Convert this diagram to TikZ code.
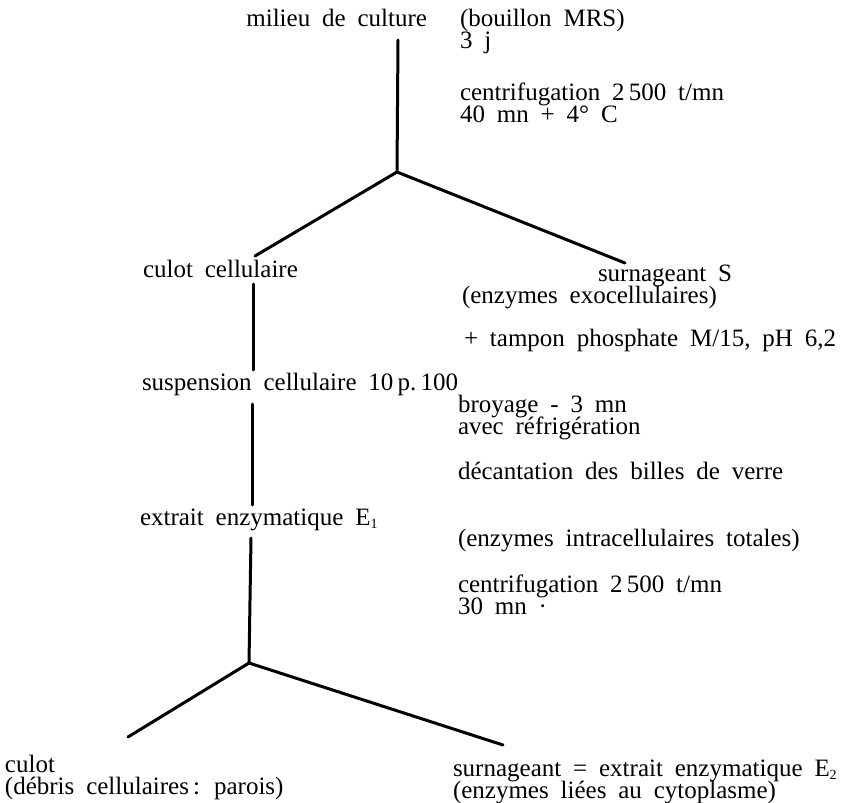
\documentclass[tikz,border=0pt]{standalone}
\usepackage{fontspec}
\setmainfont{Liberation Serif}[WordSpace=1.9]
\newcommand\lowidx[1]{\raisebox{-0.12em}{\fontsize{14}{14}\selectfont #1}}
\newcommand\tightlines{\lineskiplimit=-100pt\relax\lineskip=0pt\relax}
\begin{document}
\tightlines
\begin{tikzpicture}[x=1pt,y=-1pt,
  txt/.style={anchor=base west,inner sep=0pt,outer sep=0pt,align=left,
    font={\fontsize{25}{22}\selectfont\tightlines}},
  branch/.style={line width=3pt,line cap=round,line join=miter}]
\useasboundingbox[fill=white] (0,0) rectangle (852,803);
% texts (two-line nodes are placed by the baseline of their last line)
\node[txt,anchor=base east] (milieu) at (427,27) {milieu de culture};
\node[txt] (bouillon) at (460,48)  {(bouillon MRS)\\3 j};
\node[txt] (centri1)  at (460,122) {centrifugation 2\,500 t/mn\\40 mn + 4° C};
\node[txt] (culot1)   at (143,277) {culot cellulaire};
\node[txt] (surnS)    at (462,303) {\hspace{136pt}surnageant S\\(enzymes exocellulaires)};
\node[txt] (tampon)   at (464,346) {+ tampon phosphate M/15, pH 6,2};
\node[txt] (susp)     at (142,390) {suspension cellulaire 10\,p.\,100};
\node[txt] (broy)     at (458,434) {broyage - 3 mn\\avec réfrigération};
\node[txt] (decant)   at (458,479) {décantation des billes de verre};
\node[txt] (E1)       at (140,525) {extrait enzymatique E\lowidx{1}};
\node[txt] (intra)    at (458,546) {(enzymes intracellulaires totales)};
\node[txt] (centri2)  at (458,614) {centrifugation 2\,500 t/mn\\30 mn ·};
\node[txt] (culot2)   at (5,794)   {culot\\(débris cellulaires\,: parois)};
\node[txt] (surnE2)   at (453,798) {surnageant = extrait enzymatique E\lowidx{2}\\(enzymes liées au cytoplasme)};
% line end points
\coordinate (t0) at (398,40);
\coordinate (j1) at (397,172);
\coordinate (l1) at (255,256);
\coordinate (r1) at (625,263);
\coordinate (a0) at (253,284);
\coordinate (a1) at (253,370);
\coordinate (b0) at (252,404);
\coordinate (b1) at (252,505);
\coordinate (c0) at (251,538);
\coordinate (j2) at (249,663);
\coordinate (l2) at (128,737);
\coordinate (r2) at (503,745);
% lines
\draw[branch] (t0) -- (j1);
\draw[branch] (l1) -- (j1) -- (r1);
\draw[branch] (a0) -- (a1);
\draw[branch] (b0) -- (b1);
\draw[branch] (c0) -- (j2);
\draw[branch] (l2) -- (j2) -- (r2);
\end{tikzpicture}
\end{document}
